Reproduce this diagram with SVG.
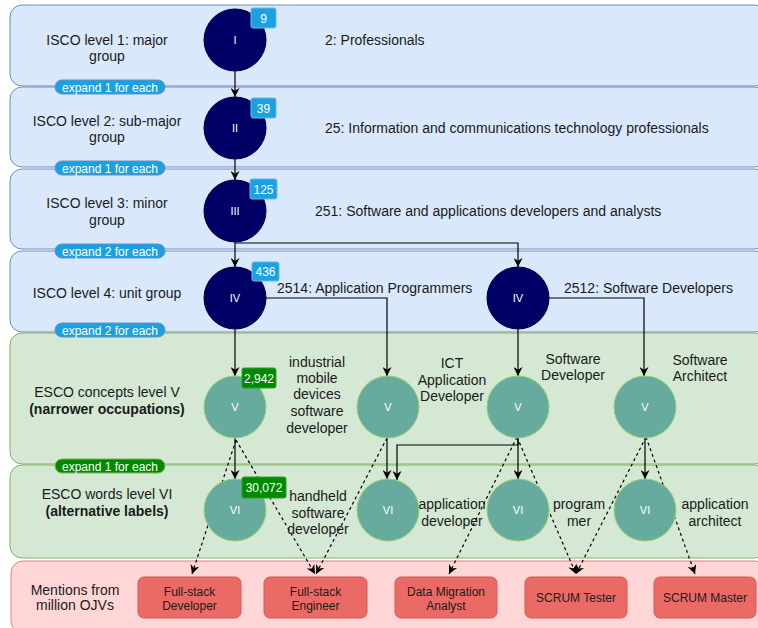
<svg xmlns="http://www.w3.org/2000/svg" width="758" height="628" viewBox="0 0 758 628">
<defs>
<style>
text{font-family:"Liberation Sans",Arial,sans-serif;fill:#1a1a1a}
.lbl{font-size:14px}
.mid{text-anchor:middle}
.b{font-weight:bold}
.band-b{fill:#dae8fc;stroke:#6c8ebf;stroke-width:1}
.band-g{fill:#d5e8d4;stroke:#82b366;stroke-width:1}
.band-r{fill:#ffd6d6;stroke:#e57f7b;stroke-width:1}
.pill-b{fill:#1ba1e2;stroke:#6c8ebf;stroke-width:1}
.pill-g{fill:#008a00;stroke:#82b366;stroke-width:1}
.pt{font-size:12px;fill:#fff;text-anchor:middle}
.isco{fill:#000066;stroke:#000033;stroke-width:1}
.esco{fill:#67ab9f;stroke:#97d077;stroke-width:1}
.ct{font-size:11px;fill:#fff;text-anchor:middle}
.badge-b{fill:#1ba1e2;stroke:#6cb8e8;stroke-width:1}
.badge-g{fill:#008a00;stroke:#2e9e2e;stroke-width:1}
.bt{font-size:12px;fill:#fff;text-anchor:middle}
.box{fill:#ea6b66;stroke:#d05a55;stroke-width:1}
.boxt{font-size:12px;text-anchor:middle;fill:#1a1a1a}
.c{fill:none;stroke:#000;stroke-width:1.2;marker-end:url(#arr)}
.d{fill:none;stroke:#000;stroke-width:1.2;stroke-dasharray:3 3;marker-end:url(#arr)}
</style>
<marker id="arr" viewBox="0 0 10 10" refX="10" refY="5" markerWidth="9" markerHeight="9" markerUnits="userSpaceOnUse" orient="auto">
<path d="M0,0 L10,5 L0,10 L3,5 z" fill="#000"/>
</marker>
</defs>

<g id="bands">
<rect id="band1" class="band-b" x="10" y="5" width="757" height="81" rx="12"/>
<rect id="band2" class="band-b" x="10" y="87" width="757" height="80" rx="12"/>
<rect id="band3" class="band-b" x="10" y="169" width="757" height="80" rx="12"/>
<rect id="band4" class="band-b" x="10" y="251" width="757" height="81" rx="12"/>
<rect id="band5" class="band-g" x="10" y="333" width="757" height="131" rx="12"/>
<rect id="band6" class="band-g" x="10" y="465" width="757" height="93" rx="12"/>
<rect id="band7" class="band-r" x="11" y="561" width="756" height="72" rx="12"/>
</g>

<g id="level-labels">
<text class="lbl mid" x="107" y="45">ISCO level 1: major</text>
<text class="lbl mid" x="107" y="61">group</text>
<text class="lbl mid" x="107" y="126">ISCO level 2: sub-major</text>
<text class="lbl mid" x="107" y="142">group</text>
<text class="lbl mid" x="107" y="208">ISCO level 3: minor</text>
<text class="lbl mid" x="107" y="225">group</text>
<text class="lbl mid" x="107" y="298">ISCO level 4: unit group</text>
<text class="lbl mid" x="107" y="397">ESCO concepts level V</text>
<text class="lbl mid b" x="107" y="414">(narrower occupations)</text>
<text class="lbl mid" x="107" y="499">ESCO words level VI</text>
<text class="lbl mid b" x="107" y="516">(alternative labels)</text>
<text class="lbl mid" x="75" y="595">Mentions from</text>
<text class="lbl mid" x="75" y="610">million OJVs</text>
</g>

<g id="pills">
<g id="pill1"><rect class="pill-b" x="55" y="80" width="110" height="14" rx="7"/><text class="pt" x="110" y="91.5">expand 1 for each</text></g>
<g id="pill2"><rect class="pill-b" x="55" y="161" width="110" height="14" rx="7"/><text class="pt" x="110" y="172.5">expand 1 for each</text></g>
<g id="pill3"><rect class="pill-b" x="55" y="244" width="110" height="14" rx="7"/><text class="pt" x="110" y="255.5">expand 2 for each</text></g>
<g id="pill4"><rect class="pill-b" x="55" y="323" width="110" height="14" rx="7"/><text class="pt" x="110" y="334.5">expand 2 for each</text></g>
<g id="pill5"><rect class="pill-g" x="55" y="459" width="110" height="14" rx="7"/><text class="pt" x="110" y="470.5">expand 1 for each</text></g>
</g>

<g id="connectors">
<path class="c" d="M235,71 L235,97"/>
<path class="c" d="M235,159 L235,180"/>
<path class="c" d="M235,242 L235,267"/>
<path class="c" d="M235,243 L518,243 L518,267"/>
<path class="c" d="M235,329 L235,376"/>
<path class="c" d="M266,298 L387,298 L387,376"/>
<path class="c" d="M518,329 L518,376"/>
<path class="c" d="M549,298 L644,298 L644,376"/>
<path class="c" d="M235,438 L235,479"/>
<path class="c" d="M387,438 L387,479"/>
<path class="c" d="M518,438 L518,445 L397,445 L397,480"/>
<path class="c" d="M518,438 L518,479"/>
<path class="c" d="M645,438 L645,479"/>
<path class="d" d="M236,440 L192,574"/>
<path class="d" d="M236,440 L315,574"/>
<path class="d" d="M387,438 L316,574"/>
<path class="d" d="M517,437 L449,574"/>
<path class="d" d="M517,437 L576,574"/>
<path class="d" d="M646,437 L576,574"/>
<path class="d" d="M646,437 L695,574"/>
</g>

<g id="isco1"><circle class="isco" cx="235" cy="40" r="31"/><text class="ct" x="235" y="44">I</text></g>
<g id="isco1-badge"><rect class="badge-b" x="251" y="8" width="25" height="20" rx="2"/><text class="bt" x="263.5" y="22.5">9</text></g>
<text id="isco1-label" class="lbl" x="325" y="45">2: Professionals</text>

<g id="isco2"><circle class="isco" cx="235" cy="128" r="31"/><text class="ct" x="235" y="132">II</text></g>
<g id="isco2-badge"><rect class="badge-b" x="251" y="98" width="25" height="20" rx="2"/><text class="bt" x="263.5" y="112.5">39</text></g>
<text id="isco2-label" class="lbl" x="325" y="133">25: Information and communications technology professionals</text>

<g id="isco3"><circle class="isco" cx="235" cy="211" r="31"/><text class="ct" x="235" y="215">III</text></g>
<g id="isco3-badge"><rect class="badge-b" x="250" y="179" width="27" height="20" rx="2"/><text class="bt" x="263.5" y="193.5">125</text></g>
<text id="isco3-label" class="lbl" x="315" y="216">251: Software and applications developers and analysts</text>

<g id="isco4a"><circle class="isco" cx="235" cy="298" r="31"/><text class="ct" x="235" y="302">IV</text></g>
<g id="isco4-badge"><rect class="badge-b" x="252" y="262" width="27" height="19" rx="2"/><text class="bt" x="265.5" y="276">436</text></g>
<text id="isco4a-label" class="lbl" x="277" y="293">2514: Application Programmers</text>

<g id="isco4b"><circle class="isco" cx="518" cy="298" r="31"/><text class="ct" x="518" y="302">IV</text></g>
<text id="isco4b-label" class="lbl" x="564" y="293">2512: Software Developers</text>

<g id="v1"><circle class="esco" cx="235" cy="407" r="31"/><text class="ct" x="235" y="411">V</text></g>
<g id="v-badge"><rect class="badge-g" x="242" y="368" width="34" height="20" rx="2"/><text class="bt" x="259" y="382.5">2,942</text></g>
<g id="v1-label">
<text class="lbl mid" x="317" y="367">industrial</text>
<text class="lbl mid" x="317" y="383">mobile</text>
<text class="lbl mid" x="317" y="399">devices</text>
<text class="lbl mid" x="317" y="416">software</text>
<text class="lbl mid" x="317" y="433">developer</text>
</g>

<g id="v2"><circle class="esco" cx="388" cy="407" r="31"/><text class="ct" x="388" y="411">V</text></g>
<g id="v2-label">
<text class="lbl mid" x="452" y="368">ICT</text>
<text class="lbl mid" x="452" y="385">Application</text>
<text class="lbl mid" x="452" y="401">Developer</text>
</g>

<g id="v3"><circle class="esco" cx="518" cy="407" r="31"/><text class="ct" x="518" y="411">V</text></g>
<g id="v3-label">
<text class="lbl mid" x="573" y="364">Software</text>
<text class="lbl mid" x="573" y="380">Developer</text>
</g>

<g id="v4"><circle class="esco" cx="645" cy="407" r="31"/><text class="ct" x="645" y="411">V</text></g>
<g id="v4-label">
<text class="lbl mid" x="700" y="365">Software</text>
<text class="lbl mid" x="700" y="381">Architect</text>
</g>

<g id="vi1"><circle class="esco" cx="235" cy="510" r="31"/><text class="ct" x="235" y="514">VI</text></g>
<g id="vi-badge"><rect class="badge-g" x="242" y="477" width="44" height="21" rx="2"/><text class="bt" x="264" y="492">30,072</text></g>
<g id="vi1-label">
<text class="lbl mid" x="318" y="501">handheld</text>
<text class="lbl mid" x="318" y="518">software</text>
<text class="lbl mid" x="318" y="534">developer</text>
</g>

<g id="vi2"><circle class="esco" cx="388" cy="510" r="31"/><text class="ct" x="388" y="514">VI</text></g>
<g id="vi2-label">
<text class="lbl mid" x="452" y="509">application</text>
<text class="lbl mid" x="452" y="526">developer</text>
</g>

<g id="vi3"><circle class="esco" cx="518" cy="510" r="31"/><text class="ct" x="518" y="514">VI</text></g>
<g id="vi3-label">
<text class="lbl mid" x="579" y="509">program</text>
<text class="lbl mid" x="579" y="526">mer</text>
</g>

<g id="vi4"><circle class="esco" cx="645" cy="510" r="31"/><text class="ct" x="645" y="514">VI</text></g>
<g id="vi4-label">
<text class="lbl mid" x="715" y="509">application</text>
<text class="lbl mid" x="715" y="526">architect</text>
</g>

<g id="ojv1"><rect class="box" x="138" y="577" width="103" height="41" rx="6"/><text class="boxt" x="189.5" y="596">Full-stack</text><text class="boxt" x="189.5" y="610">Developer</text></g>
<g id="ojv2"><rect class="box" x="264" y="577" width="103" height="41" rx="6"/><text class="boxt" x="315.5" y="596">Full-stack</text><text class="boxt" x="315.5" y="610">Engineer</text></g>
<g id="ojv3"><rect class="box" x="395" y="577" width="102" height="41" rx="6"/><text class="boxt" x="446" y="596">Data Migration</text><text class="boxt" x="446" y="610">Analyst</text></g>
<g id="ojv4"><rect class="box" x="525" y="577" width="102" height="41" rx="6"/><text class="boxt" x="576" y="602">SCRUM Tester</text></g>
<g id="ojv5"><rect class="box" x="654" y="577" width="102" height="41" rx="6"/><text class="boxt" x="705" y="602">SCRUM Master</text></g>
</svg>
